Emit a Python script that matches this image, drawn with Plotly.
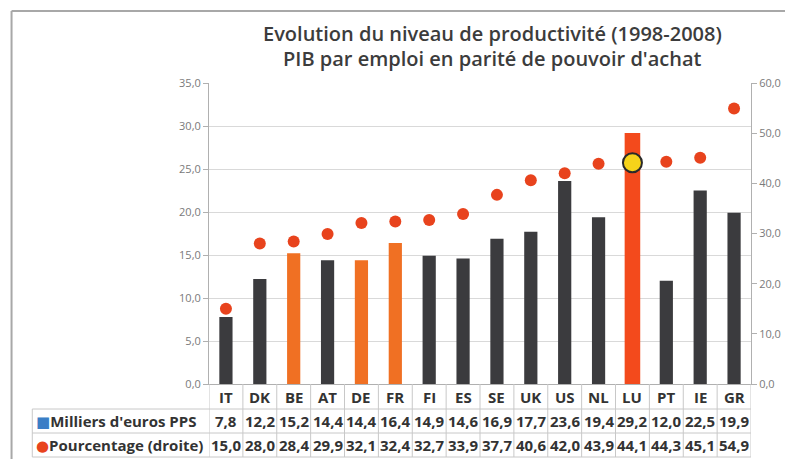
import plotly.graph_objects as go

countries = ["IT", "DK", "BE", "AT", "DE", "FR", "FI", "ES", "SE", "UK", "US", "NL", "LU", "PT", "IE", "GR"]
milliers_pps = [7.8, 12.2, 15.2, 14.4, 14.4, 16.4, 14.9, 14.6, 16.9, 17.7, 23.6, 19.4, 29.2, 12.0, 22.5, 19.9]
pourcentage = [15.0, 28.0, 28.4, 29.9, 32.1, 32.4, 32.7, 33.9, 37.7, 40.6, 42.0, 43.9, 44.1, 44.3, 45.1, 54.9]
left_ticks = [0, 5, 10, 15, 20, 25, 30, 35]
right_ticks = [0, 10, 20, 30, 40, 50, 60]
series_names = ["Milliers d'euros PPS", "Pourcentage (droite)"]
title_lines = ["Evolution du niveau de productivité (1998-2008)", "PIB par emploi en parité de pouvoir d'achat"]

DARK = "#3b3b3e"
ORANGE = "#f07023"
LU_RED = "#f34a1c"
DOT = "#e8431d"
YELLOW = "#f6d31a"

orange_set = {"BE", "DE", "FR"}
bar_colors = [LU_RED if c == "LU" else (ORANGE if c in orange_set else DARK) for c in countries]
bar_widths = [0.46 if c == "LU" else 0.39 for c in countries]
dot_colors = [YELLOW if c == "LU" else DOT for c in countries]
dot_sizes = [19 if c == "LU" else 12 for c in countries]
dot_line_w = [2 if c == "LU" else 0 for c in countries]

def fmt(v):
    return f"{v:.1f}".replace(".", ",")

# page has an 8px body margin; plot area targeted at page x 209..758, y 83..384
PX0, PW, PY0, PH = 209, 549, 384, 301
def px(xp):
    return (xp - PX0) / PW
def py(yp):
    return (PY0 - yp) / PH

fig = go.Figure()
fig.add_trace(go.Bar(x=countries, y=milliers_pps, marker=dict(color=bar_colors, line=dict(width=0)),
                     width=bar_widths, name=series_names[0], yaxis="y"))
fig.add_trace(go.Scatter(x=countries, y=pourcentage, mode="markers", name=series_names[1], yaxis="y2",
                         marker=dict(color=dot_colors, size=dot_sizes, opacity=1,
                                     line=dict(color="#2a2a2a", width=dot_line_w))))

tickfont = dict(family="Open Sans, DejaVu Sans, sans-serif", size=11, color="#7a7a7a")
fig.update_layout(
    width=785, height=451,
    margin=dict(l=201, r=35, t=75, b=75),
    paper_bgcolor="white", plot_bgcolor="white",
    showlegend=False,
    separators=", ",
    xaxis=dict(type="category", range=[-0.5, 15.5], showticklabels=False, showgrid=False,
               showline=True, linecolor="#b0b0b0", linewidth=1, ticks="", zeroline=False),
    yaxis=dict(range=[0, 35], tickvals=left_ticks, tickformat=".1f", showgrid=True, gridcolor="#d9d9d9",
               gridwidth=1, showline=True, linecolor="#b0b0b0", linewidth=1, ticks="outside", ticklen=5,
               tickcolor="#b0b0b0", tickfont=tickfont, zeroline=False),
    yaxis2=dict(range=[0, 60], tickvals=right_ticks, tickformat=".1f", overlaying="y", side="right",
                showgrid=False, showline=True, linecolor="#b0b0b0", linewidth=1, ticks="outside",
                ticklen=5, tickcolor="#b0b0b0", tickfont=tickfont, zeroline=False),
)

# Title
title_font = dict(family="Open Sans, DejaVu Sans, sans-serif", size=20, color="#3c3c3c", weight=600)
for i, line in enumerate(title_lines):
    fig.add_annotation(text=line, xref="paper", yref="paper", x=px(496), y=py(33 + 25 * i),
                       xanchor="center", yanchor="middle", showarrow=False, font=title_font)

# Frame border lines (top and left)
frame = dict(color="#a8a8a8", width=2)
fig.add_shape(type="line", xref="paper", yref="paper", x0=px(9), x1=px(800), y0=py(11), y1=py(11), line=frame)
fig.add_shape(type="line", xref="paper", yref="paper", x0=px(9), x1=px(9), y0=py(11), y1=py(470), line=frame)

# Data table below the chart
grid = dict(color="#c8c8c8", width=1)
row_lines = [py(409), py(433), py(457)]
row_centers = [py(396.5), py(421), py(445)]
left_col = px(30)
n = len(countries)
for k in range(n + 1):
    fig.add_shape(type="line", xref="x", yref="paper", x0=k - 0.5, x1=k - 0.5, y0=0, y1=row_lines[2], line=grid)
fig.add_shape(type="line", xref="paper", yref="paper", x0=left_col, x1=left_col, y0=row_lines[0], y1=row_lines[2], line=grid)
for yl in row_lines:
    fig.add_shape(type="line", xref="paper", yref="paper", x0=left_col, x1=1, y0=yl, y1=yl, line=grid)

cell_font = dict(family="Open Sans, DejaVu Sans, sans-serif", size=15, color="#333333", weight=700)
for c, v1, v2 in zip(countries, milliers_pps, pourcentage):
    for txt, yc in ((c, row_centers[0]), (fmt(v1), row_centers[1]), (fmt(v2), row_centers[2])):
        fig.add_annotation(text=txt, x=c, xref="x", yref="paper", y=yc, showarrow=False,
                           xanchor="center", yanchor="middle", font=cell_font)

fig.add_annotation(text="<span style='color:#3a7ec6'>■</span>" + series_names[0], xref="paper", yref="paper",
                   x=px(32), y=row_centers[1], xanchor="left", yanchor="middle", showarrow=False,
                   font=cell_font)
fig.add_annotation(text="<span style='color:" + DOT + "'>●</span>" + series_names[1], xref="paper", yref="paper",
                   x=px(32), y=row_centers[2], xanchor="left", yanchor="middle", showarrow=False,
                   font=cell_font)

fig.write_html("out.html")
